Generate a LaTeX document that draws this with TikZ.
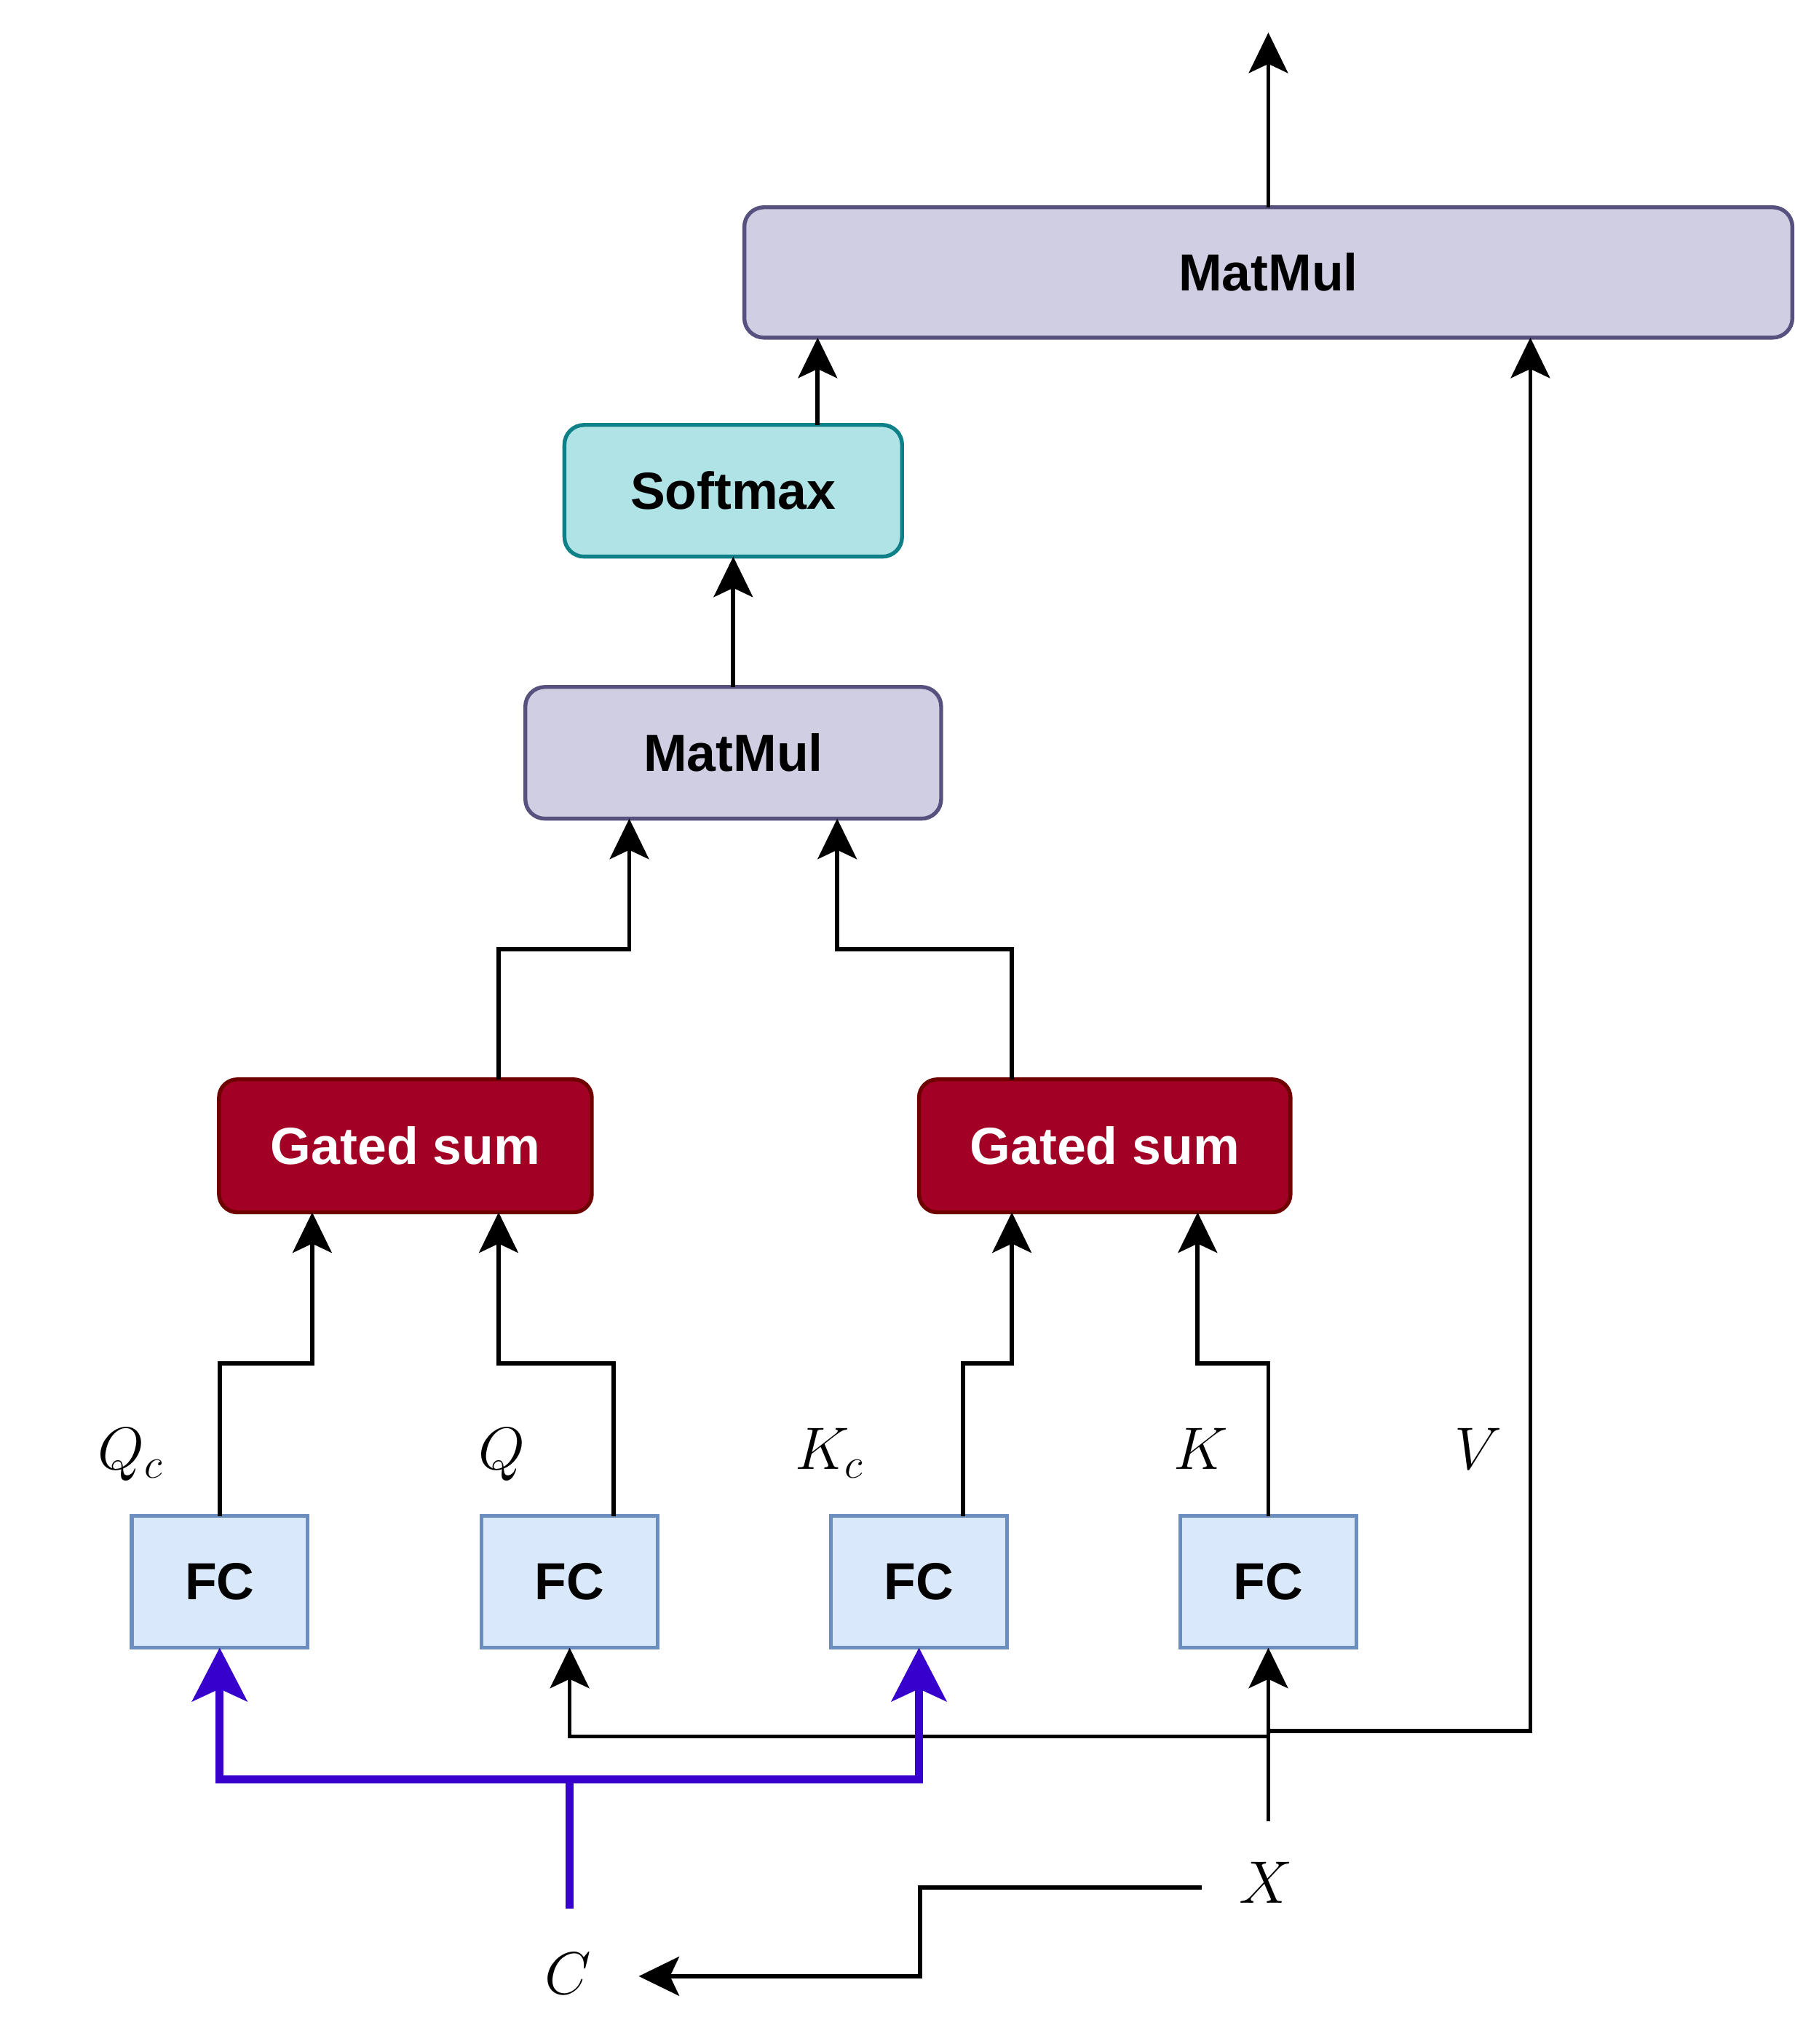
\RequirePackage{fix-cm}
\documentclass[tikz,border=0pt]{standalone}
\usepackage{fontspec}
\newfontfamily\boxfont{Liberation Sans}
\usetikzlibrary{arrows.meta,calc}
\definecolor{mmfill}{HTML}{D0CEE2}
\definecolor{mmdraw}{HTML}{56517E}
\definecolor{smfill}{HTML}{B0E3E6}
\definecolor{smdraw}{HTML}{0E8088}
\definecolor{gsfill}{HTML}{A20025}
\definecolor{gsdraw}{HTML}{6F0000}
\definecolor{fcfill}{HTML}{DAE8FC}
\definecolor{fcdraw}{HTML}{6C8EBF}
\definecolor{purp}{HTML}{3700CC}
\tikzset{
  blk/.style={draw, line width=3pt, inner sep=0pt, outer sep=0pt,
    font=\boxfont\bfseries\fontsize{40}{48}\selectfont},
  mmbox/.style={blk, fill=mmfill, draw=mmdraw, rounded corners=15pt},
  smbox/.style={blk, fill=smfill, draw=smdraw, rounded corners=15pt},
  gsbox/.style={blk, fill=gsfill, draw=gsdraw, rounded corners=14pt, text=white},
  fcbox/.style={blk, fill=fcfill, draw=fcdraw},
  lbl/.style={inner sep=0pt, anchor=base, font=\fontsize{46}{54}\selectfont},
  arr/.style={line width=3.2pt, draw=black, -{Stealth[length=31pt,width=30pt,inset=7pt]}},
  parr/.style={line width=6.2pt, draw=purp, line join=miter, -{Stealth[length=41pt,width=42pt,inset=9.5pt]}},
  pline/.style={line width=6.2pt, draw=purp, line join=miter},
}
\begin{document}
\begin{tikzpicture}[x=1pt,y=-1pt]
\useasboundingbox (0,0) rectangle (1377,1568);
% boxes
\node[mmbox, minimum width=804pt, minimum height=100pt] (mm2) at (973,209) {MatMul};
\node[smbox, minimum width=259pt, minimum height=101pt] (soft) at (562.5,376.5) {Softmax};
\node[mmbox, minimum width=319pt, minimum height=101pt] (mm1) at (562.5,577.5) {MatMul};
\node[gsbox, minimum width=286pt, minimum height=102pt] (gs1) at (311,879) {Gated sum};
\node[gsbox, minimum width=285pt, minimum height=102pt] (gs2) at (847.5,879) {Gated sum};
\node[fcbox, minimum width=135pt, minimum height=101pt] (fc1) at (168.5,1213.5) {FC};
\node[fcbox, minimum width=135pt, minimum height=101pt] (fc2) at (437,1213.5) {FC};
\node[fcbox, minimum width=135pt, minimum height=101pt] (fc3) at (705,1213.5) {FC};
\node[fcbox, minimum width=135pt, minimum height=101pt] (fc4) at (973,1213.5) {FC};
% labels
\node[lbl] (lqc) at (100,1127) {$Q_c$};
\node[lbl] (lq) at (385,1127) {$Q$};
\node[lbl] (lkc) at (636,1127) {$K_c$};
\node[lbl] (lk) at (921,1127) {$K$};
\node[lbl] (lv) at (1134,1127) {$V$};
\node[lbl] (xn) at (971,1460) {$X$};
\node[lbl] (cn) at (436,1530) {$C$};
% anchor coordinates on boxes
\coordinate (softout) at ($(soft.north west)!0.75!(soft.north east)$);
\coordinate (mm2v) at ($(mm2.south west)!0.75!(mm2.south east)$);
\coordinate (mm1a) at ($(mm1.south west)!0.25!(mm1.south east)$);
\coordinate (mm1b) at ($(mm1.south west)!0.75!(mm1.south east)$);
\coordinate (gs1out) at ($(gs1.north west)!0.75!(gs1.north east)$);
\coordinate (gs2out) at ($(gs2.north west)!0.25!(gs2.north east)$);
\coordinate (gs1a) at ($(gs1.south west)!0.25!(gs1.south east)$);
\coordinate (gs1b) at ($(gs1.south west)!0.75!(gs1.south east)$);
\coordinate (gs2a) at ($(gs2.south west)!0.25!(gs2.south east)$);
\coordinate (gs2b) at ($(gs2.south west)!0.75!(gs2.south east)$);
\coordinate (fc2out) at ($(fc2.north west)!0.75!(fc2.north east)$);
\coordinate (fc3out) at ($(fc3.north west)!0.75!(fc3.north east)$);
% free coordinates
\coordinate (outtop) at (973,25);
\coordinate (xtop) at (973,1397);
\coordinate (jq) at (973,1332);
\coordinate (jv) at (973,1328);
\coordinate (xs) at (922,1448);
\coordinate (ctip) at (490,1516);
\coordinate (cp) at (437,1464);
\coordinate (pj) at (437,1365);
% top output
\draw[arr] (mm2.north) -- (outtop);
% softmax -> mm2
\draw[arr] (softout) -- (softout |- mm2.south);
% V
\draw[arr] (jv) -| (mm2v);
% mm1 -> softmax
\draw[arr] (mm1.north) -- (soft.south);
% gated sums -> mm1
\draw[arr] (gs1out) -- (gs1out |- 0,728) -| (mm1a);
\draw[arr] (gs2out) -- (gs2out |- 0,728) -| (mm1b);
% fc -> gated sums
\draw[arr] (fc1.north) -- (fc1.north |- 0,1046) -| (gs1a);
\draw[arr] (fc2out) -- (fc2out |- 0,1046) -| (gs1b);
\draw[arr] (fc3out) -- (fc3out |- 0,1046) -| (gs2a);
\draw[arr] (fc4.north) -- (fc4.north |- 0,1046) -| (gs2b);
% X inputs
\draw[arr] (xtop) -- (fc4.south);
\draw[arr] (jq) -| (fc2.south);
% X -> C
\draw[arr] (xs) -- (706,1448) |- (ctip);
% C purple
\draw[pline] (cp) -- (pj);
\draw[parr] (pj) -| (fc1.south);
\draw[parr] (pj) -| (fc3.south);
\end{tikzpicture}
\end{document}
